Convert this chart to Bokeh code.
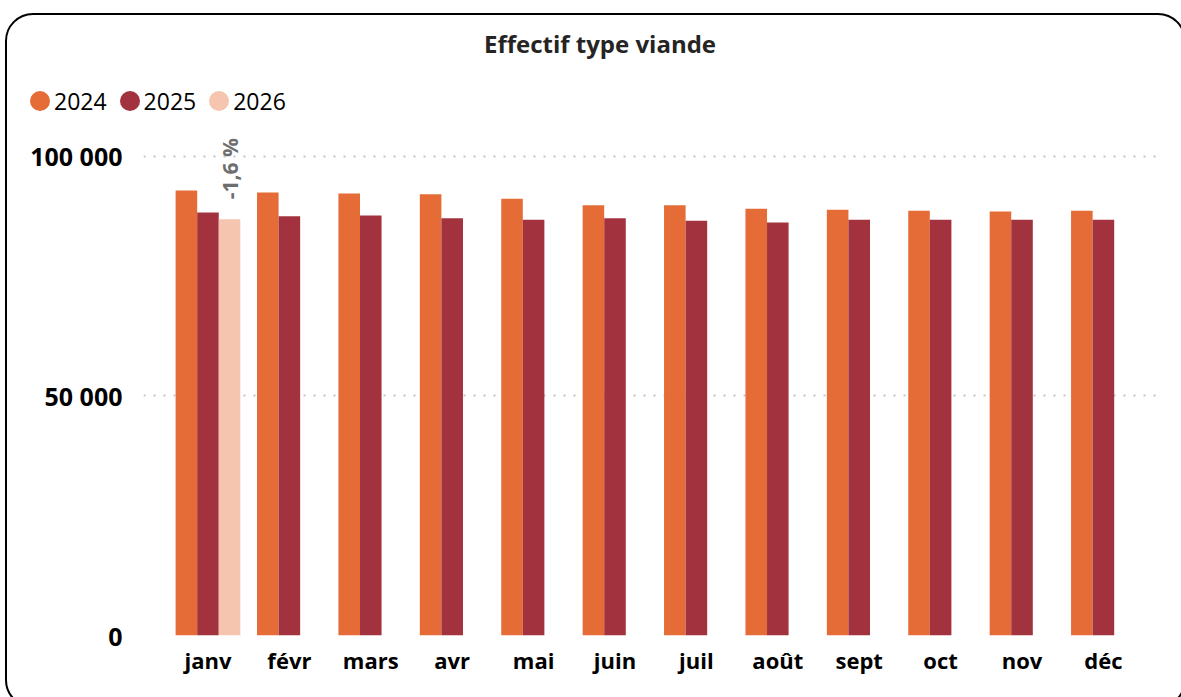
import math
from bokeh.plotting import figure
from bokeh.models import (Range1d, FixedTicker, ColumnDataSource, Div)
from bokeh.layouts import column
from bokeh.core.properties import value
from bokeh.transform import dodge
from bokeh.embed import file_html
from bokeh.resources import INLINE

# ---- data ----
months = ["janv", "févr", "mars", "avr", "mai", "juin", "juil", "août", "sept", "oct", "nov", "déc"]
v2024 = [92900, 92500, 92300, 92100, 91200, 89800, 89800, 89100, 88900, 88700, 88500, 88700]
v2025 = [88300, 87500, 87700, 87100, 86800, 87100, 86600, 86200, 86800, 86800, 86800, 86800]
v2026 = [86900]          # only janv so far
years = ["2024", "2025", "2026"]
colors = ["#E56C37", "#A3323F", "#F5C5B0"]
y_ticks = [0, 50000, 100000]
y_tick_labels = ["0", "50 000", "100 000"]
title_text = "Effectif type viande"

FONT = "Open Sans"
BAR_W = 0.265
W = 1177
HH = 110
HP = 581

idx = list(range(len(months)))
src24 = ColumnDataSource(dict(x=idx, top=v2024))
src25 = ColumnDataSource(dict(x=idx, top=v2025))
src26 = ColumnDataSource(dict(x=idx[:len(v2026)], top=v2026))

pct = [(a - b) / b * 100 for a, b in zip(v2026, v2025)]
lbl_src = ColumnDataSource(dict(x=idx[:len(v2026)], y=v2026,
                                txt=[("%.1f %%" % q).replace(".", ",") for q in pct]))

# ---- header: title + legend (HTML) ----
legend_items = "".join(
    '<div style="display:flex;align-items:center;margin-right:13px;">'
    '<span style="display:inline-block;width:20px;height:20px;border-radius:50%%;'
    'background:%s;margin-right:4px;"></span>'
    '<span style="font-size:23px;line-height:24px;color:#000;">%s</span></div>' % (c, y)
    for y, c in zip(years, colors))
header_html = (
    '<div style="position:relative;width:%dpx;height:%dpx;font-family:\'Open Sans\';">'
    '<div style="position:absolute;left:0;top:13px;width:1186px;text-align:center;'
    'font-size:24px;line-height:32px;font-weight:bold;color:#252423;">%s</div>'
    '<div style="position:absolute;left:23px;top:74px;height:24px;display:flex;'
    'align-items:center;">%s</div></div>' % (W, HH, title_text, legend_items))
header = Div(text=header_html, width=W, height=HH, margin=0)

# ---- main chart ----
p = figure(width=W, height=HP, output_backend="svg", toolbar_location=None,
           x_range=Range1d(-0.792, 11.738), y_range=Range1d(0, 106054),
           min_border_left=136, min_border_right=21, min_border_top=2, min_border_bottom=71)
p.background_fill_color = None
p.border_fill_color = None
p.outline_line_color = None

p.vbar(x=dodge("x", -BAR_W, range=p.x_range), top="top", width=BAR_W, source=src24,
       fill_color=colors[0], line_color=None)
p.vbar(x="x", top="top", width=BAR_W, source=src25, fill_color=colors[1], line_color=None)
p.vbar(x=dodge("x", BAR_W, range=p.x_range), top="top", width=BAR_W, source=src26,
       fill_color=colors[2], line_color=None)

p.text(x=dodge("x", BAR_W, range=p.x_range), y="y", text="txt", source=lbl_src,
       angle=math.pi / 2, y_offset=-20, text_align="left", text_baseline="middle",
       text_font=value(FONT), text_font_style="bold", text_font_size="21px",
       text_color="#6E6E6E")

p.xaxis.ticker = FixedTicker(ticks=idx)
p.xaxis.major_label_overrides = {i: m for i, m in zip(idx, months)}
p.yaxis.ticker = FixedTicker(ticks=y_ticks)
p.yaxis.major_label_overrides = {t: l for t, l in zip(y_ticks, y_tick_labels)}
for ax in (p.xaxis, p.yaxis):
    ax.axis_line_color = None
    ax.major_tick_line_color = None
    ax.minor_tick_line_color = None
    ax.major_label_text_font = FONT
    ax.major_label_text_font_style = "bold"
    ax.major_label_text_color = "#000000"
p.xaxis.major_label_text_font_size = "22px"
p.xaxis.major_label_standoff = 3
p.yaxis.major_label_text_font_size = "25px"
p.yaxis.major_label_standoff = 15

p.xgrid.grid_line_color = None
p.ygrid.ticker = FixedTicker(ticks=y_ticks)
p.ygrid.grid_line_color = "#C4C4C4"
p.ygrid.grid_line_width = 2
p.ygrid.grid_line_dash = "2 8"

inner = column(header, p, margin=(13, 0, 0, 5),
               styles={"border": "2px solid #000000", "border-radius": "28px"})
outer = column(inner, width=1181, height=697, styles={"overflow": "hidden"})

open("out.html", "w").write(file_html(outer, INLINE))
